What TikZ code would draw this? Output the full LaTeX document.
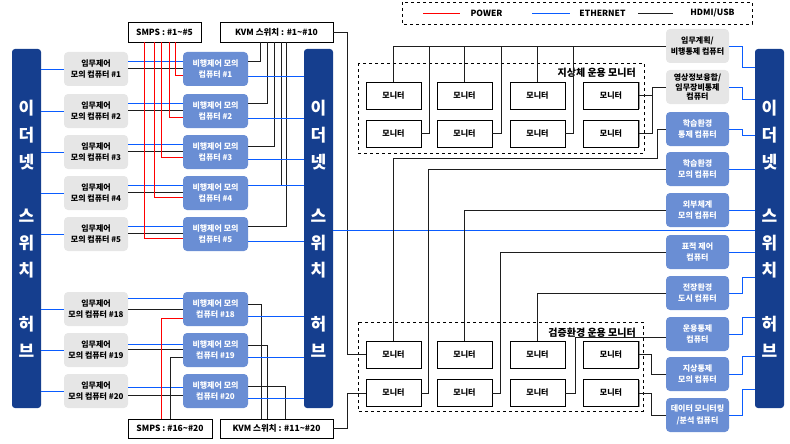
\documentclass[tikz,border=0pt]{standalone}
\usepackage{fontspec}
\setmainfont{Noto Sans CJK KR}
\usepackage{tikz}
\usetikzlibrary{calc,shadows}
\definecolor{HubBlue}{HTML}{153E8E}
\definecolor{NodeBlue}{HTML}{6A8ED4}
\definecolor{NodeGray}{HTML}{E6E6E6}
\definecolor{EthBlue}{HTML}{0A5CFF}
\definecolor{PwrRed}{HTML}{FF0000}
\definecolor{Cable}{HTML}{1E1E1E}

\begin{document}
\begin{tikzpicture}[x=1pt,y=-1pt,
  hub/.style={fill=HubBlue,rounded corners=3pt,minimum width=29pt,minimum height=359pt,inner sep=0pt,text=white,align=center,font=\fontsize{17}{27}\selectfont\bfseries},
  simbox/.style={fill=NodeGray,rounded corners=4pt,minimum width=64pt,minimum height=34pt,inner sep=0pt,align=center,font=\fontsize{8}{11.5}\selectfont\bfseries},
  fltbox/.style={simbox,fill=NodeBlue,text=white,minimum width=65pt},
  sidebox/.style={simbox,minimum width=63pt},
  sidefly/.style={fltbox,minimum width=63pt},
  devbox/.style={draw=black,line width=0.8pt,minimum height=20pt,inner sep=0pt,font=\fontsize{8.5}{10}\selectfont\bfseries},
  monitor/.style={draw=black,line width=0.8pt,fill=white,minimum width=55pt,minimum height=27pt,inner sep=0pt,font=\fontsize{8}{9}\selectfont\bfseries,
    drop shadow={shadow xshift=1.4pt,shadow yshift=0pt,fill=gray!80,opacity=1}},
  grp/.style={draw=black,line width=0.8pt,dashed},
  grplabel/.style={anchor=east,inner sep=0pt,font=\fontsize{10}{11}\selectfont\bfseries},
  eth/.style={draw=EthBlue,line width=0.9pt},
  pwr/.style={draw=PwrRed,line width=0.9pt},
  cable/.style={draw=Cable,line width=0.9pt},
  legtext/.style={inner sep=0pt,font=\fontsize{8.5}{10}\selectfont\bfseries}
]
  \useasboundingbox (0,0) rectangle (790,444);

  % legend
  \draw[grp] (402,2) rectangle (752,24);
  \coordinate (lp1) at (423,13); \coordinate (lp2) at (460,13);
  \coordinate (le1) at (532,13); \coordinate (le2) at (570,13);
  \coordinate (lh1) at (638,13); \coordinate (lh2) at (673,13);
  \draw[pwr] (lp1) -- (lp2);
  \draw[eth] (le1) -- (le2);
  \draw[cable] (lh1) -- (lh2);
  \node[legtext] (lpow) at (486.5,13) {POWER};
  \node[legtext] (leth) at (602.5,13) {ETHERNET};
  \node[legtext] (lhdmi) at (712.5,13) {HDMI/USB};

  % hubs
  \node[hub] (hubL) at (26.5,228.5) {이\\더\\넷\\[27pt]스\\위\\치\\[27pt]허\\브};
  \node[hub] (hubM) at (318.5,228.5) {이\\더\\넷\\[27pt]스\\위\\치\\[27pt]허\\브};
  \node[hub] (hubR) at (769.5,228.5) {이\\더\\넷\\[27pt]스\\위\\치\\[27pt]허\\브};

  % power and kvm boxes
  \node[devbox,minimum width=73pt] (smpsA) at (164.5,32) {SMPS : \#1\textasciitilde\#5};
  \node[devbox,minimum width=113pt] (kvmA) at (276.5,32) {KVM 스위치 : \#1\textasciitilde\#10};
  \node[devbox,minimum width=84pt,minimum height=19pt] (smpsB) at (170,428.5) {SMPS : \#16\textasciitilde\#20};
  \node[devbox,minimum width=113pt,minimum height=19pt] (kvmB) at (276.5,428.5) {KVM 스위치 : \#11\textasciitilde\#20};

  % mission control sims
  \node[simbox] (msn1) at (96,69) {임무제어\\모의 컴퓨터 \#1};
  \node[simbox] (msn2) at (96,111) {임무제어\\모의 컴퓨터 \#2};
  \node[simbox] (msn3) at (96,152) {임무제어\\모의 컴퓨터 \#3};
  \node[simbox] (msn4) at (96,193) {임무제어\\모의 컴퓨터 \#4};
  \node[simbox] (msn5) at (96,234) {임무제어\\모의 컴퓨터 \#5};
  \node[simbox] (msn18) at (96,309) {임무제어\\모의 컴퓨터 \#18};
  \node[simbox] (msn19) at (96,350) {임무제어\\모의 컴퓨터 \#19};
  \node[simbox] (msn20) at (96,391) {임무제어\\모의 컴퓨터 \#20};

  % flight control sims
  \node[fltbox] (flt1) at (215.5,69) {비행제어 모의\\컴퓨터 \#1};
  \node[fltbox] (flt2) at (215.5,111) {비행제어 모의\\컴퓨터 \#2};
  \node[fltbox] (flt3) at (215.5,152) {비행제어 모의\\컴퓨터 \#3};
  \node[fltbox] (flt4) at (215.5,193) {비행제어 모의\\컴퓨터 \#4};
  \node[fltbox] (flt5) at (215.5,234) {비행제어 모의\\컴퓨터 \#5};
  \node[fltbox] (flt18) at (215.5,309) {비행제어 모의\\컴퓨터 \#18};
  \node[fltbox] (flt19) at (215.5,350) {비행제어 모의\\컴퓨터 \#19};
  \node[fltbox] (flt20) at (215.5,391) {비행제어 모의\\컴퓨터 \#20};

  % right side computers
  \node[sidebox] (rc1) at (697.5,46) {임무계획/\\비행통제 컴퓨터};
  \node[sidebox,font=\fontsize{8}{9.5}\selectfont\bfseries] (rc2) at (697.5,87) {영상정보융합/\\임무장비통제\\컴퓨터};
  \node[sidefly] (rc3) at (697.5,129) {학습환경\\통제 컴퓨터};
  \node[sidefly] (rc4) at (697.5,169) {학습환경\\모의 컴퓨터};
  \node[sidefly] (rc5) at (697.5,210) {외부체계\\모의 컴퓨터};
  \node[sidefly] (rc6) at (697.5,252) {표적 제어\\컴퓨터};
  \node[sidefly] (rc7) at (697.5,293) {전장환경\\도시 컴퓨터};
  \node[sidefly] (rc8) at (697.5,334) {운용통제\\컴퓨터};
  \node[sidefly] (rc9) at (697.5,374) {지상통제\\모의 컴퓨터};
  \node[sidefly] (rc10) at (697.5,415) {데이터 모니터링\\/분석 컴퓨터};

  % monitor groups
  \draw[grp] (358,63) rectangle (644,153);
  \draw[grp] (358,322) rectangle (643,411);
  \node[grplabel] (glabel) at (636,73) {지상체 운용 모니터};
  \node[grplabel] (tlabel) at (636,333) {검증환경 운용 모니터};

  \node[monitor] (g11) at (393.5,95.5) {모니터};
  \node[monitor] (g12) at (464.5,95.5) {모니터};
  \node[monitor] (g13) at (537.5,95.5) {모니터};
  \node[monitor] (g14) at (611,95.5) {모니터};
  \node[monitor] (g21) at (393.5,133.5) {모니터};
  \node[monitor] (g22) at (464.5,133.5) {모니터};
  \node[monitor] (g23) at (537.5,133.5) {모니터};
  \node[monitor] (g24) at (611,133.5) {모니터};
  \node[monitor] (t11) at (393.5,354.5) {모니터};
  \node[monitor] (t12) at (464.5,354.5) {모니터};
  \node[monitor] (t13) at (537.5,354.5) {모니터};
  \node[monitor] (t14) at (611,354.5) {모니터};
  \node[monitor] (t21) at (393.5,393) {모니터};
  \node[monitor] (t22) at (464.5,393) {모니터};
  \node[monitor] (t23) at (537.5,393) {모니터};
  \node[monitor] (t24) at (611,393) {모니터};

  % left hub to mission sims
  \draw[eth] (hubL.east |- msn1) -- (msn1);
  \draw[eth] (hubL.east |- msn2) -- (msn2);
  \draw[eth] (hubL.east |- msn3) -- (msn3);
  \draw[eth] (hubL.east |- msn4) -- (msn4);
  \draw[eth] (hubL.east |- msn5) -- (msn5);
  \draw[eth] (hubL.east |- msn18) -- (msn18);
  \draw[eth] (hubL.east |- msn19) -- (msn19);
  \draw[eth] (hubL.east |- msn20) -- (msn20);

  % mission sim to flight sim
  \draw[eth] ($(msn1.east)+(0,-8)$) -- ($(flt1.west)+(0,-8)$);
  \draw[cable] ($(msn1.east)+(0,-1)$) -- ($(flt1.west)+(0,-1)$);
  \draw[eth] ($(msn2.east)+(0,-8)$) -- ($(flt2.west)+(0,-8)$);
  \draw[cable] ($(msn2.east)+(0,-1)$) -- ($(flt2.west)+(0,-1)$);
  \draw[eth] ($(msn3.east)+(0,-8)$) -- ($(flt3.west)+(0,-8)$);
  \draw[cable] ($(msn3.east)+(0,-1)$) -- ($(flt3.west)+(0,-1)$);
  \draw[eth] ($(msn4.east)+(0,-8)$) -- ($(flt4.west)+(0,-8)$);
  \draw[cable] ($(msn4.east)+(0,-1)$) -- ($(flt4.west)+(0,-1)$);
  \draw[eth] ($(msn5.east)+(0,-8)$) -- ($(flt5.west)+(0,-8)$);
  \draw[cable] ($(msn5.east)+(0,-1)$) -- ($(flt5.west)+(0,-1)$);
  \draw[eth] ($(msn18.east)+(0,-11)$) -- ($(flt18.west)+(0,-11)$);
  \draw[cable] ($(msn18.east)+(0,0)$) -- ($(flt18.west)+(0,0)$);
  \draw[eth] ($(msn19.east)+(0,-6)$) -- ($(flt19.west)+(0,-6)$);
  \draw[cable] ($(msn19.east)+(0,-1)$) -- ($(flt19.west)+(0,-1)$);
  \draw[eth] ($(msn20.east)+(0,-4)$) -- ($(flt20.west)+(0,-4)$);
  \draw[cable] ($(msn20.east)+(0,4)$) -- ($(flt20.west)+(0,4)$);

  % power
  \draw[pwr] ($(smpsA.south)+(10.5,0)$) |- ($(flt1.west)+(0,6)$);
  \draw[pwr] ($(smpsA.south)+(4.5,0)$) |- ($(flt2.west)+(0,6)$);
  \draw[pwr] ($(smpsA.south)+(-3.5,0)$) |- ($(flt3.west)+(0,5)$);
  \draw[pwr] ($(smpsA.south)+(-10.5,0)$) |- ($(flt4.west)+(0,4)$);
  \draw[pwr] ($(smpsA.south)+(-20.5,0)$) |- ($(flt5.west)+(0,4)$);
  \draw[pwr] ($(smpsB.north)+(-9,0)$) |- ($(flt18.west)+(0,9)$);
  \draw[cable] (smpsB.north) |- ($(flt19.west)+(0,7)$);

  % kvm
  \draw[cable] ($(flt1.east)+(0,-8)$) -| ($(kvmA.south)+(-16.5,0)$);
  \draw[cable] ($(flt2.east)+(0,-8)$) -| ($(kvmA.south)+(-9.5,0)$);
  \draw[cable] ($(flt3.east)+(0,-6)$) -| ($(kvmA.south)+(-2.5,0)$);
  \draw[cable] ($(flt4.east)+(0,-8)$) -| ($(kvmA.south)+(4.5,0)$);
  \draw[cable] ($(flt5.east)+(0,-8)$) -| ($(kvmA.south)+(9.5,0)$);
  \draw[cable] ($(flt18.east)+(0,-5)$) -| ($(kvmB.north)+(-15.5,0)$);
  \draw[cable] ($(flt19.east)+(0,-5)$) -| ($(kvmB.north)+(-9.5,0)$);
  \draw[cable] ($(flt20.east)+(0,-5)$) -| ($(kvmB.north)+(8.5,0)$);
  \draw[cable] (kvmA.east) -| ($(t11.west)+(-18,0)$) -- (t11.west);
  \draw[cable] (kvmB.east) -| ($(t21.west)+(-18,0)$) -- (t21.west);

  % flight sim to middle hub
  \draw[eth] ($(flt1.east)+(0,7)$) -- ($(flt1.east -| hubM.west)+(0,7)$);
  \draw[eth] ($(flt2.east)+(0,7)$) -- ($(flt2.east -| hubM.west)+(0,7)$);
  \draw[eth] ($(flt3.east)+(0,7)$) -- ($(flt3.east -| hubM.west)+(0,7)$);
  \draw[eth] ($(flt4.east)+(0,-8)$) -- ($(flt4.east -| hubM.west)+(0,-8)$);
  \draw[eth] ($(flt5.east)+(0,7)$) -- ($(flt5.east -| hubM.west)+(0,7)$);
  \draw[eth] ($(flt18.east)+(0,7)$) -- ($(flt18.east -| hubM.west)+(0,7)$);
  \draw[eth] ($(flt19.east)+(0,7)$) -- ($(flt19.east -| hubM.west)+(0,7)$);
  \draw[eth] ($(flt20.east)+(0,7)$) -- ($(flt20.east -| hubM.west)+(0,7)$);
  \draw[eth] ($(hubM.east)+(0,1.5)$) -- ($(hubR.west)+(0,1.5)$);

  % right computers to right hub
  \draw[eth] (rc1.east) -- ++(13,0) |- ($(rc1.east -| hubR.west)+(0,21)$);
  \draw[eth] (rc2.east) -- ++(13,0) |- ($(rc2.east -| hubR.west)+(0,12)$);
  \draw[eth] (rc3.east) -- ++(13,0) |- ($(rc3.east -| hubR.west)+(0,6)$);
  \draw[eth] (rc4.east) -- (rc4.east -| hubR.west);
  \draw[eth] (rc5.east) -- (rc5.east -| hubR.west);
  \draw[eth] (rc6.east) -- (rc6.east -| hubR.west);
  \draw[eth] (rc7.east) -- ++(13,0) |- ($(rc7.east -| hubR.west)+(0,-16)$);
  \draw[eth] (rc8.east) -- ++(13,0) |- ($(rc8.east -| hubR.west)+(0,-17)$);
  \draw[eth] (rc9.east) -- ++(13,0) |- ($(rc9.east -| hubR.west)+(0,-18)$);
  \draw[eth] (rc10.east) -- ++(13,0) |- ($(rc10.east -| hubR.west)+(0,-26)$);

  % ground monitors
  \draw[cable] (g11.north) |- (rc1.west);
  \draw[cable] (g21.east) -- ++(8,0) |- (rc1.west);
  \draw[cable] (g12.north) |- (rc1.west);
  \draw[cable] (g22.east) -- ++(9,0) |- (rc1.west);
  \draw[cable] (g13.north) |- (rc1.west);
  \draw[cable] (g23.east) -- ++(8,0) |- (rc1.west);
  \draw[cable] (g14.east) -- ++(14,0) |- (rc2.west);
  \draw[cable] (g24.east) -- ++(14,0) |- (rc2.west);

  % test monitors
  \draw[cable] (rc3.west) -- ++(-8,0) -- ++(0,29) -| (t11.north);
  \draw[cable] (rc4.west) -| ($(t21.east)+(7,0)$) -- (t21.east);
  \draw[cable] (rc5.west) -| (t12.north);
  \draw[cable] (rc6.west) -| ($(t22.east)+(8,0)$) -- (t22.east);
  \draw[cable] (rc7.west) -| (t13.north);
  \draw[cable] ($(rc8.west)+(0,3)$) -| ($(t23.east)+(10,0)$) -- (t23.east);
  \draw[cable] (t14.east) -- ++(13,0) |- (rc9.west);
  \draw[cable] (t24.east) -- ++(13,0) |- (rc10.west);
\end{tikzpicture}
\end{document}
